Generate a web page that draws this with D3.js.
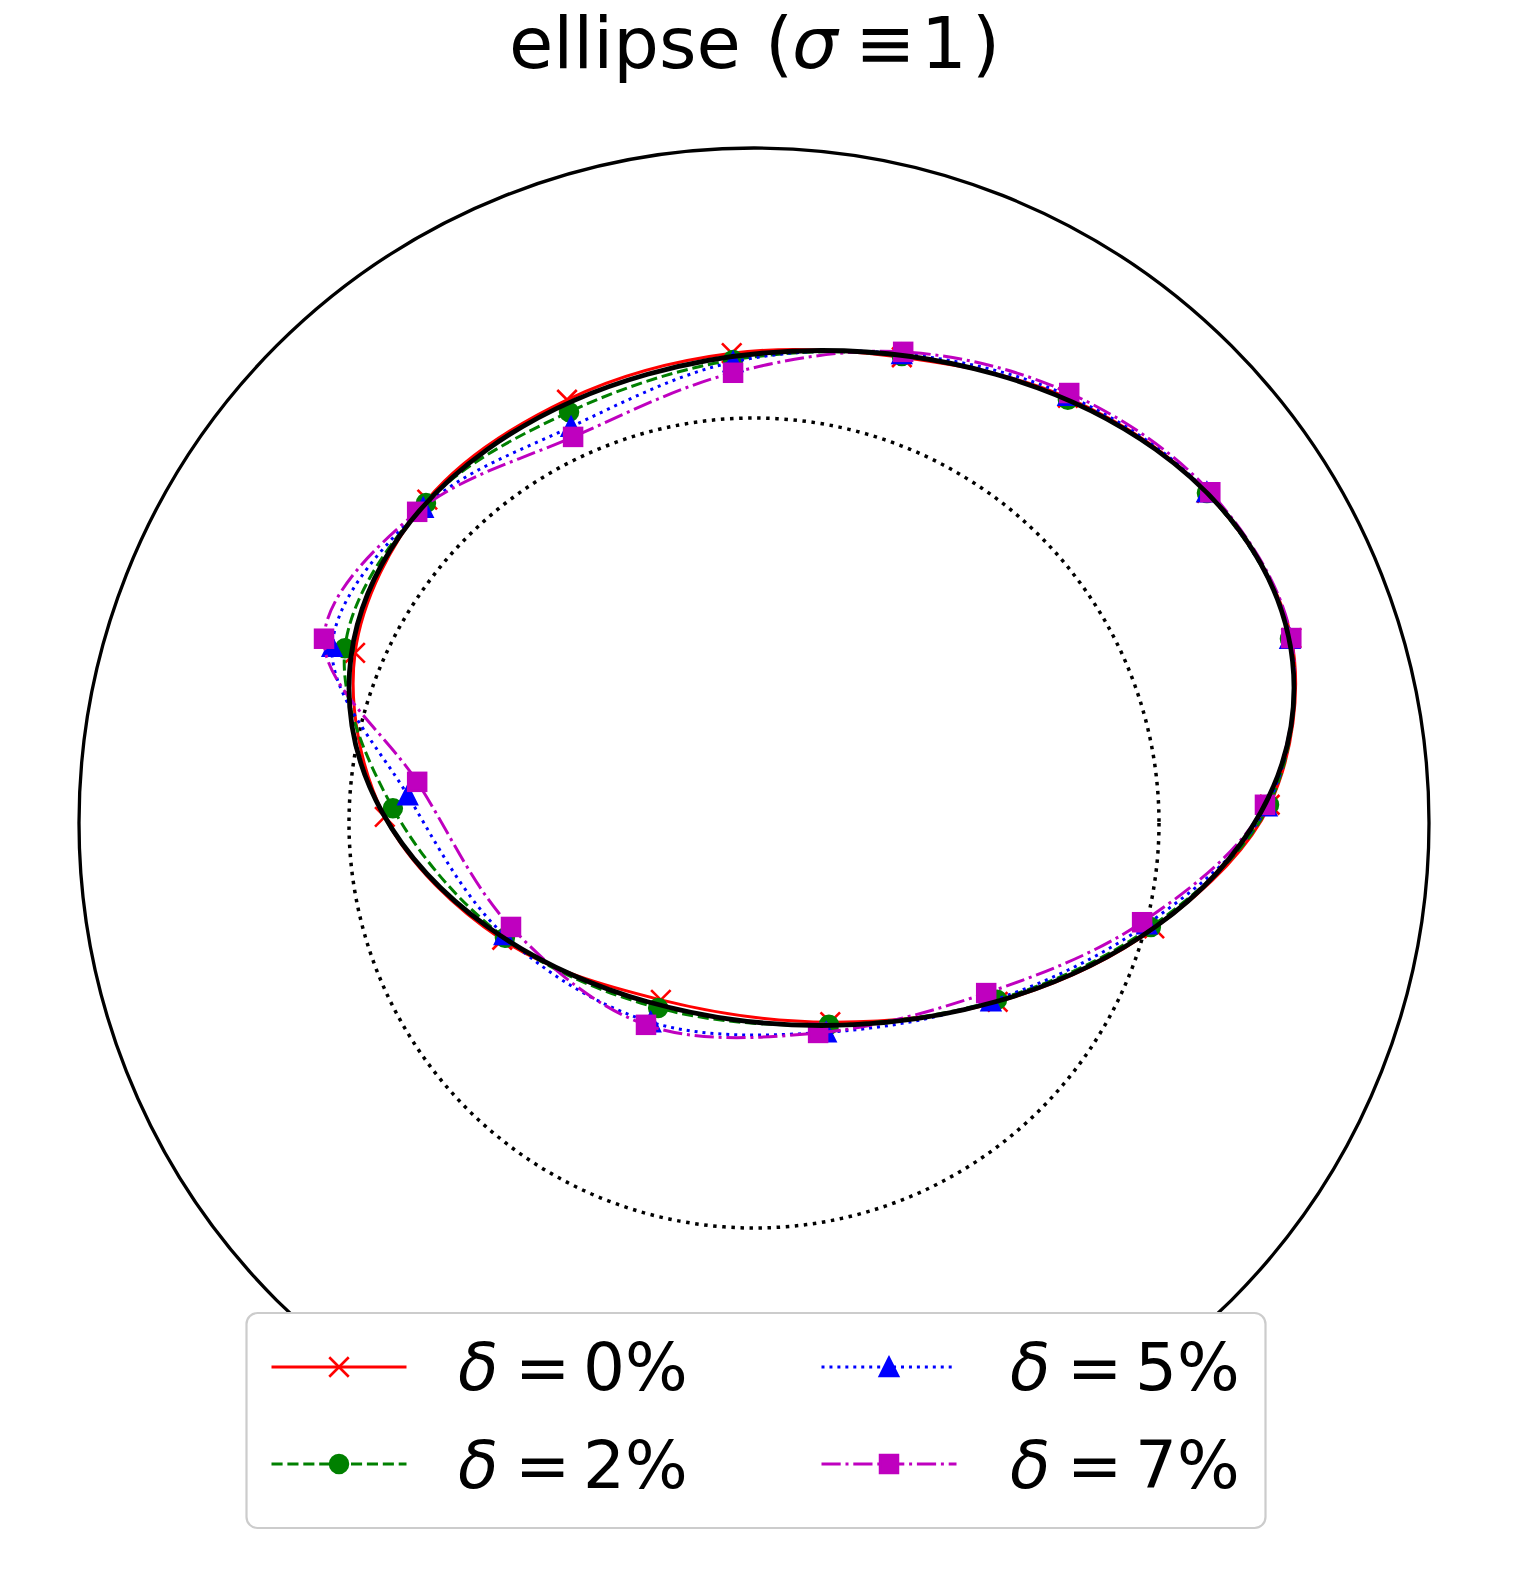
<!DOCTYPE html>
<html>
<head>
<meta charset="utf-8">
<script src="https://cdn.jsdelivr.net/npm/d3@7"></script>
<style>
  html, body { margin: 0; padding: 0; background: #fff; }
  svg { display: block; }
  text { font-family: "DejaVu Sans", sans-serif; }
</style>
</head>
<body>
<script>
// ---------------- data ----------------
const seriesNames = ["δ = 0%", "δ = 2%", "δ = 5%", "δ = 7%"];
const seriesPct = ["0%", "2%", "5%", "7%"];
// marker positions (x, y) in plot units (outer circle radius = 1)
const x0 = [0.796, 0.671, 0.465, 0.219, -0.033, -0.277, -0.484, -0.591, -0.547, -0.373, -0.138, 0.113, 0.361, 0.593, 0.764];
const y0 = [0.274, 0.489, 0.630, 0.690, 0.696, 0.627, 0.479, 0.252, 0.009, -0.173, -0.262, -0.295, -0.265, -0.156, 0.027];
const x2 = [0.794, 0.671, 0.465, 0.219, -0.031, -0.274, -0.486, -0.606, -0.535, -0.369, -0.142, 0.111, 0.360, 0.588, 0.763];
const y2 = [0.273, 0.489, 0.627, 0.692, 0.686, 0.609, 0.474, 0.259, 0.022, -0.170, -0.274, -0.299, -0.262, -0.154, 0.027];
const x5 = [0.794, 0.671, 0.465, 0.219, -0.031, -0.271, -0.490, -0.625, -0.513, -0.370, -0.153, 0.107, 0.351, 0.582, 0.760];
const y5 = [0.273, 0.490, 0.633, 0.695, 0.683, 0.587, 0.467, 0.261, 0.041, -0.166, -0.295, -0.310, -0.264, -0.150, 0.025];
const x7 = [0.796, 0.676, 0.467, 0.221, -0.031, -0.268, -0.499, -0.637, -0.499, -0.360, -0.160, 0.095, 0.344, 0.575, 0.757];
const y7 = [0.274, 0.490, 0.637, 0.698, 0.667, 0.572, 0.461, 0.273, 0.061, -0.154, -0.299, -0.311, -0.252, -0.147, 0.027];
// true shape: ellipse centre and semi-axes
const ellipseCenter = [0.1, 0.2];
const ellipseAxes = [0.7, 0.5];
// reference circles
const rMax = 1.0;
const refCircleR = 0.6;
const titleText = "ellipse";

// ---------------- layout ----------------
const W = 1514, H = 1574;
const cx = 754, cy = 823, R = 675;

const X = d3.scaleLinear().domain([-rMax, rMax]).range([cx - R, cx + R]);
const Y = d3.scaleLinear().domain([-rMax, rMax]).range([cy + R, cy - R]);
const rs = v => X(v) - X(0);

const svg = d3.select("body").append("svg").attr("width", W).attr("height", H);

const lw = 3.0;
const styles = [
  {color: "#ff0000", dash: null, marker: "x"},
  {color: "#008000", dash: [3.7*lw, 1.6*lw], marker: "o"},
  {color: "#0000ff", dash: [1*lw, 1.65*lw], marker: "^"},
  {color: "#bf00bf", dash: [6.4*lw, 1.6*lw, 1*lw, 1.6*lw], marker: "s"}
];
const xs = [x0, x2, x5, x7];
const ys = [y0, y2, y5, y7];

// dotted reference circle
svg.append("circle").attr("cx", X(0)).attr("cy", Y(0)).attr("r", rs(refCircleR))
  .attr("fill", "none").attr("stroke", "#000").attr("stroke-width", 3.5)
  .attr("stroke-dasharray", "3.5,5.6");

// outer circle (polar frame)
svg.append("circle").attr("cx", X(0)).attr("cy", Y(0)).attr("r", rs(rMax))
  .attr("fill", "none").attr("stroke", "#000").attr("stroke-width", 3.3);

const ms = 17.5, mh = ms / 2;
function drawMarker(g, type, color, px, py) {
  if (type === "x") {
    const h = mh + 1;
    g.append("path").attr("d", `M${px-h},${py-h}L${px+h},${py+h}M${px-h},${py+h}L${px+h},${py-h}`)
      .attr("stroke", color).attr("stroke-width", 2.6).attr("fill", "none");
  } else if (type === "o") {
    g.append("circle").attr("cx", px).attr("cy", py).attr("r", mh)
      .attr("fill", color).attr("stroke", color).attr("stroke-width", lw);
  } else if (type === "^") {
    g.append("path").attr("d", `M${px},${py-mh}L${px-mh},${py+mh}L${px+mh},${py+mh}Z`)
      .attr("fill", color).attr("stroke", color).attr("stroke-width", lw).attr("stroke-linejoin", "miter");
  } else if (type === "s") {
    g.append("rect").attr("x", px-mh).attr("y", py-mh).attr("width", ms).attr("height", ms)
      .attr("fill", color).attr("stroke", color).attr("stroke-width", lw);
  }
}

const line = d3.line().x(d => X(d[0])).y(d => Y(d[1])).curve(d3.curveCatmullRomClosed.alpha(0.5));

styles.forEach((st, i) => {
  const pts = xs[i].map((v, k) => [v, ys[i][k]]);
  const g = svg.append("g");
  g.append("path").attr("d", line(pts)).attr("fill", "none")
    .attr("stroke", st.color).attr("stroke-width", lw)
    .attr("stroke-dasharray", st.dash ? st.dash.join(",") : null);
  pts.forEach(p => drawMarker(g, st.marker, st.color, X(p[0]), Y(p[1])));
});

// true ellipse
svg.append("ellipse")
  .attr("cx", X(ellipseCenter[0])).attr("cy", Y(ellipseCenter[1]))
  .attr("rx", rs(ellipseAxes[0])).attr("ry", rs(ellipseAxes[1]))
  .attr("fill", "none").attr("stroke", "#000").attr("stroke-width", 4.8);

// title
const title = svg.append("text").attr("y", 68).attr("font-size", 72).attr("fill", "#000");
title.append("tspan").attr("x", 509).text(titleText);
title.append("tspan").attr("x", 765).text("(");
title.append("tspan").attr("x", 792).attr("font-style", "italic").text("σ");
title.append("tspan").attr("x", 855).text("≡");
title.append("tspan").attr("x", 921).text("1");
title.append("tspan").attr("x", 972).text(")");

// legend
const lg = svg.append("g");
lg.append("rect").attr("x", 246.5).attr("y", 1313).attr("width", 1019).attr("height", 215)
  .attr("rx", 11).attr("fill", "#fff").attr("stroke", "#cccccc").attr("stroke-width", 2.2);

const colX = [271.5, 821.5];
const rowY = [1367, 1464];
const textX = [458, 1010];
const baseY = [1390, 1488];
const order = [[0,0],[1,0],[0,1],[1,1]]; // [row, col] for each series
styles.forEach((st, i) => {
  const [row, col] = order[i];
  const x1 = colX[col], x2e = colX[col] + 135, yy = rowY[row];
  lg.append("line").attr("x1", x1).attr("x2", x2e).attr("y1", yy).attr("y2", yy)
    .attr("stroke", st.color).attr("stroke-width", lw)
    .attr("stroke-dasharray", st.dash ? st.dash.join(",") : null);
  drawMarker(lg, st.marker, st.color, (x1 + x2e) / 2, yy);
  const t = lg.append("text").attr("y", baseY[row]).attr("font-size", 66).attr("fill", "#000");
  t.append("tspan").attr("x", textX[col]).attr("font-style", "italic").text("δ");
  t.append("tspan").attr("x", textX[col] + 57).text("=");
  t.append("tspan").attr("x", textX[col] + 125).text(seriesPct[i]);
});
</script>
</body>
</html>
